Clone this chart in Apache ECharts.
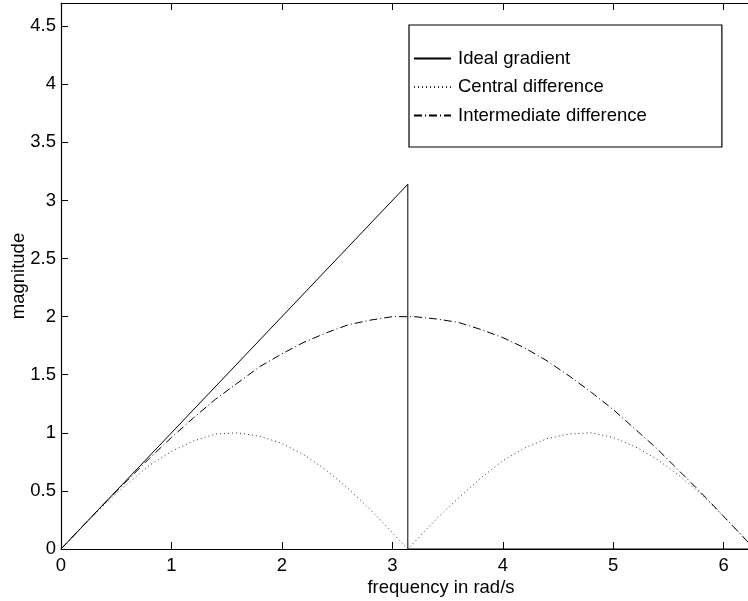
<!doctype html>
<html>
    <head>
        <meta charset="utf-8">
        <title>Gradient magnitude</title>
        <style>
            html, body { margin: 0; padding: 0; background: #fff; }
            #main { width: 748px; height: 601px; }
        </style>
    </head>
    <body>
        <div id="main"></div>
        <script src="https://cdn.jsdelivr.net/npm/echarts@6/dist/echarts.min.js"></script>
        <script>
            // values
            var freq = [0, 0.2, 0.4, 0.6, 0.8, 1.0, 1.2, 1.4, 1.6, 1.8, 2.0, 2.2, 2.4, 2.6, 2.8, 3.0, 3.14,
                3.2, 3.4, 3.6, 3.8, 4.0, 4.2, 4.4, 4.6, 4.8, 5.0, 5.2, 5.4, 5.6, 5.8, 6.0, 6.2, 6.28];
            var central = [0, 0.20, 0.39, 0.56, 0.72, 0.84, 0.93, 0.99, 1.00, 0.97, 0.91, 0.81, 0.68, 0.52, 0.34, 0.14, 0,
                0.06, 0.26, 0.44, 0.61, 0.76, 0.87, 0.95, 0.99, 1.00, 0.96, 0.88, 0.77, 0.63, 0.47, 0.28, 0.08, 0];
            var intermediate = [0, 0.20, 0.40, 0.59, 0.78, 0.96, 1.13, 1.29, 1.43, 1.57, 1.68, 1.78, 1.86, 1.93, 1.97, 2.00, 2.00,
                2.00, 1.98, 1.95, 1.89, 1.82, 1.73, 1.62, 1.49, 1.35, 1.20, 1.03, 0.86, 0.67, 0.48, 0.28, 0.08, 0];
            var idealFreq = [0, 3.14, 3.14, 6.28];
            var idealMag = [0, 3.14, 0, 0];

            var names = ['Ideal gradient', 'Central difference', 'Intermediate difference'];

            function pairs(xs, ys) {
                var out = [];
                for (var i = 0; i < xs.length; i++) {
                    out.push([xs[i], ys[i]]);
                }
                return out;
            }

            var font = 'Liberation Sans, Arial, Helvetica, sans-serif';
            var fs = 18.5;

            var chart = echarts.init(document.getElementById('main'));

            var axisCommon = {
                type: 'value',
                axisLine: { show: true, onZero: false, lineStyle: { color: '#000', width: 1.2 } },
                axisTick: { show: true, inside: true, length: 7, lineStyle: { color: '#000', width: 1 } },
                splitLine: { show: false }
            };

            chart.setOption({
                animation: false,
                backgroundColor: '#fff',
                textStyle: { fontFamily: font },
                grid: {
                    left: 61,
                    top: 3,
                    width: 694,
                    height: 546,
                    containLabel: false,
                    outerBoundsMode: 'none'
                },
                legend: {
                    data: names,
                    orient: 'vertical',
                    left: 409,
                    top: 25,
                    padding: [24, 75, 22, 4],
                    itemWidth: 37,
                    itemHeight: 14,
                    itemGap: 9.5,
                    selectedMode: false,
                    borderColor: '#000',
                    borderWidth: 1.2,
                    backgroundColor: '#fff',
                    itemStyle: { opacity: 0 },
                    textStyle: { fontFamily: font, fontSize: fs, color: '#000', padding: [0, 0, 0, 2] }
                },
                xAxis: [
                    Object.assign({}, axisCommon, {
                        position: 'bottom',
                        min: 0,
                        max: 6.2832,
                        interval: 1,
                        name: 'frequency in rad/s',
                        nameLocation: 'middle',
                        nameGap: 29,
                        nameMoveOverlap: false,
                        nameTextStyle: { fontFamily: font, fontSize: fs, color: '#000', padding: [0, 0, 0, 66] },
                        axisLabel: { show: true, margin: 7, fontFamily: font, fontSize: fs, color: '#000', showMaxLabel: false }
                    }),
                    Object.assign({}, axisCommon, {
                        position: 'top',
                        min: 0,
                        max: 6.2832,
                        interval: 1,
                        axisLabel: { show: false }
                    })
                ],
                yAxis: [
                    Object.assign({}, axisCommon, {
                        position: 'left',
                        min: 0,
                        max: 4.7,
                        interval: 0.5,
                        name: 'magnitude',
                        nameLocation: 'middle',
                        nameGap: 33,
                        nameMoveOverlap: false,
                        nameTextStyle: { fontFamily: font, fontSize: fs, color: '#000' },
                        axisLabel: { show: true, margin: 5, fontFamily: font, fontSize: fs, color: '#000', showMaxLabel: false }
                    }),
                    Object.assign({}, axisCommon, {
                        position: 'right',
                        min: 0,
                        max: 4.7,
                        interval: 0.5,
                        axisLabel: { show: false }
                    })
                ],
                series: [
                    {
                        name: names[0],
                        type: 'line',
                        symbol: 'none',
                        data: pairs(idealFreq, idealMag),
                        lineStyle: { color: '#000', width: 1, type: 'solid' },
                        itemStyle: { color: '#000' }
                    },
                    {
                        name: names[1],
                        type: 'line',
                        symbol: 'none',
                        data: pairs(freq, central),
                        lineStyle: { color: '#333', width: 1, type: [1, 3] },
                        itemStyle: { color: '#333' }
                    },
                    {
                        name: names[2],
                        type: 'line',
                        symbol: 'none',
                        data: pairs(freq, intermediate),
                        lineStyle: { color: '#000', width: 1, type: [8, 3, 1, 3] },
                        itemStyle: { color: '#000' }
                    }
                ]
            });

            window.onresize = chart.resize;
        </script>
    </body>
</html>
